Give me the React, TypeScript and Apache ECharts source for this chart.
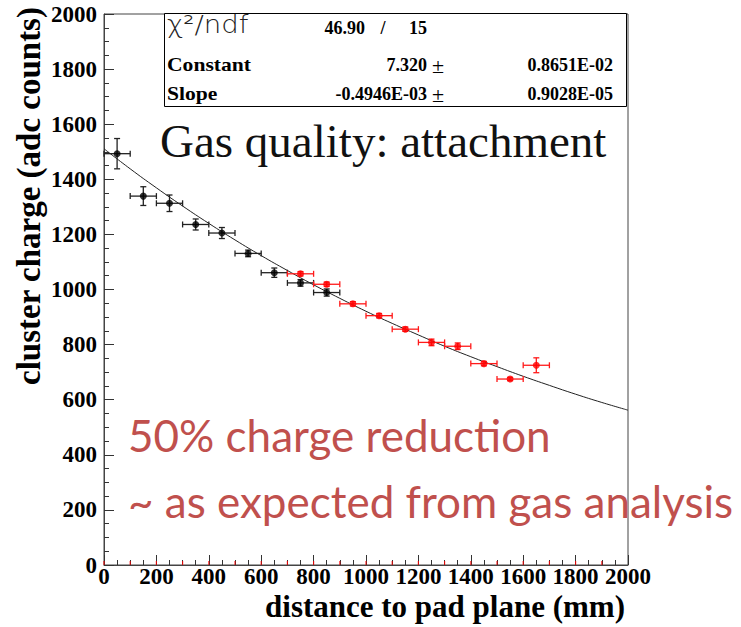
import React, { useEffect, useRef } from "react";
import * as echarts from "echarts";

// ---- data ----
const binHalfWidth = 50;

const blackX = [50, 150, 250, 350, 450, 550, 650, 750, 850];
const blackY = [1493, 1339, 1313, 1236, 1205, 1131, 1061, 1024, 989];
const blackYErr = [55, 34, 30, 20, 20, 12, 17, 12, 13];

const redX = [750, 850, 950, 1050, 1150, 1250, 1350, 1450, 1550, 1650];
const redY = [1057, 1019, 948, 905, 856, 808, 794, 731, 675, 725];
const redYErr = [8, 8, 8, 8, 8, 12, 12, 8, 6, 27];

// fitted exponential curve, sampled
const fitX = [0, 100, 200, 300, 400, 500, 600, 700, 800, 900, 1000, 1100, 1200, 1300, 1400, 1500, 1600, 1700, 1800, 1900, 2000];
const fitY = [1511, 1438, 1369, 1303, 1240, 1180, 1123, 1069, 1017, 968, 921, 877, 835, 794, 756, 720, 685, 652, 620, 590, 562];

// red histogram baseline marks
const redBaseX = [0, 100, 200, 300, 400, 500, 600, 700, 800, 900, 1000, 1100, 1200, 1300, 1400, 1500, 1600, 1700, 1800, 1900];

const xTitle = "distance to pad plane (mm)";
const yTitle = "cluster charge (adc counts)";
const plotTitle = "Gas quality: attachment";
const note1 = "50% charge reduction";
const note2 = "~ as expected from gas analysis";

const statsRows = [
  { name: "Constant", value: "7.320", err: "0.8651E-02" },
  { name: "Slope", value: "-0.4946E-03", err: "0.9028E-05" },
];
const chi2 = "46.90";
const ndf = "15";

const SERIF = "'Liberation Serif', 'Times New Roman', serif";
const SANS_NOTE = "Lato, 'Open Sans', sans-serif";

function errorBarSeries(name: string, xs: number[], ys: number[], yerr: number[], color: string) {
  return {
    type: "custom",
    name,
    z: 3,
    data: xs.map((x, i) => [x, ys[i], binHalfWidth, yerr[i]]),
    renderItem: (_params: any, api: any) => {
      const x = api.value(0);
      const y = api.value(1);
      const xe = api.value(2);
      const ye = api.value(3);
      const l = api.coord([x - xe, y]);
      const r = api.coord([x + xe, y]);
      const t = api.coord([x, y + ye]);
      const b = api.coord([x, y - ye]);
      const cap = 3;
      const style = { stroke: color, lineWidth: 1.3 };
      const mk = (x1: number, y1: number, x2: number, y2: number) => ({
        type: "line",
        shape: { x1, y1, x2, y2 },
        style,
      });
      return {
        type: "group",
        children: [
          mk(l[0], l[1], r[0], r[1]),
          mk(t[0], t[1], b[0], b[1]),
          mk(l[0], l[1] - cap, l[0], l[1] + cap),
          mk(r[0], r[1] - cap, r[0], r[1] + cap),
          mk(t[0] - cap, t[1], t[0] + cap, t[1]),
          mk(b[0] - cap, b[1], b[0] + cap, b[1]),
        ],
      };
    },
  };
}

function txt(text: string, x: number, y: number, font: string, align: string, fill = "#000", scaleX = 1, extra: any = {}) {
  return {
    type: "text",
    x,
    y,
    scaleX,
    z: 20,
    style: {
      text,
      font,
      fill,
      align,
      textAlign: align,
      verticalAlign: "middle",
      textVerticalAlign: "middle",
    },
    ...extra,
  };
}

export default function App() {
  const ref = useRef<HTMLDivElement>(null);
  useEffect(() => {
    if (!ref.current) return;
    const chart = echarts.init(ref.current, null, { renderer: "svg" });
    const statFont = `bold 18px ${SERIF}`;
    const rowsY = [65, 94];
    const graphics: any[] = [
      {
        type: "rect",
        z: 15,
        shape: { x: 164.5, y: 13.5, width: 462, height: 93 },
        style: { fill: "#fff", stroke: "#000", lineWidth: 1 },
      },
      txt("χ²/ndf", 167, 25, `200 24px 'DejaVu Sans', sans-serif`, "left", "#222", 1.15),
      txt(chi2, 365, 28, statFont, "right", "#000"),
      txt("/", 383, 28, statFont, "center", "#000"),
      txt(ndf, 427, 28, statFont, "right", "#000"),
    ];
    statsRows.forEach((row, i) => {
      const by = rowsY[i];
      graphics.push(txt(row.name, 167, by, statFont, "left", "#000", 1.2));
      graphics.push(txt(row.value, 427, by, statFont, "right", "#000"));
      graphics.push(txt("±", 432, by, `22px ${SERIF}`, "left", "#000"));
      graphics.push(txt(row.err, 613, by, statFont, "right", "#000"));
    });
    graphics.push(txt(plotTitle, 160, 141, `47px ${SERIF}`, "left", "#111"));
    graphics.push(txt(note1, 128, 435, `44px ${SANS_NOTE}`, "left", "#c0504d"));
    graphics.push(txt(note2, 128, 501, `44px ${SANS_NOTE}`, "left", "#c0504d"));
    graphics.push(txt(xTitle, 625, 606, `bold 31px ${SERIF}`, "right", "#000"));
    graphics.push({
      type: "text",
      x: 29,
      y: 196,
      rotation: Math.PI / 2,
      z: 20,
      style: {
        text: yTitle,
        font: `bold 33px ${SERIF}`,
        fill: "#000",
        align: "center",
        textAlign: "center",
        verticalAlign: "middle",
        textVerticalAlign: "middle",
      },
    });

    const axisCommon = {
      type: "value",
      min: 0,
      max: 2000,
      interval: 200,
      axisLine: { show: true, lineStyle: { color: "#444", width: 1 } },
      axisTick: { show: true, inside: true, length: 10, lineStyle: { color: "#333", width: 1 } },
      minorTick: { show: true, splitNumber: 4, length: 5, lineStyle: { color: "#333", width: 1 } },
      splitLine: { show: false },
      minorSplitLine: { show: false },
      axisLabel: {
        color: "#000",
        fontFamily: SERIF,
        fontWeight: "bold",
        fontSize: 23,
        formatter: (v: number) => String(v),
      },
    };

    chart.setOption({
      animation: false,
      backgroundColor: "#fff",
      grid: {
        left: 104,
        right: 113,
        top: 14,
        bottom: 62,
        show: true,
        borderColor: "#444",
        borderWidth: 1,
        backgroundColor: "transparent",
        containLabel: false,
        outerBoundsMode: "none",
      },
      xAxis: { ...axisCommon, axisLabel: { ...axisCommon.axisLabel, margin: 0, lineHeight: 22 } },
      yAxis: { ...axisCommon, axisLabel: { ...axisCommon.axisLabel, margin: 7 } },
      graphic: graphics,
      series: [
        {
          type: "scatter",
          name: "baseline",
          data: redBaseX.map((x) => [x, 0]),
          symbol: "rect",
          symbolSize: [1.2, 4],
          symbolOffset: [0, -2],
          itemStyle: { color: "#ff0000" },
          z: 2,
          silent: true,
        },
        {
          type: "line",
          name: "fit",
          data: fitX.map((x, i) => [x, fitY[i]]),
          showSymbol: false,
          symbol: "none",
          smooth: true,
          lineStyle: { color: "#222", width: 1 },
          z: 2,
        },
        errorBarSeries("black err", blackX, blackY, blackYErr, "#222"),
        errorBarSeries("red err", redX, redY, redYErr, "#ff1a1a"),
        {
          type: "scatter",
          name: "black",
          data: blackX.map((x, i) => [x, blackY[i]]),
          symbol: "circle",
          symbolSize: 7,
          itemStyle: { color: "#000" },
          z: 4,
        },
        {
          type: "scatter",
          name: "red",
          data: redX.map((x, i) => [x, redY[i]]),
          symbol: "circle",
          symbolSize: 7,
          itemStyle: { color: "#ff0000" },
          z: 5,
        },
      ],
    });
    return () => chart.dispose();
  }, []);
  return (
    <div
      ref={ref}
      style={{ position: "fixed", left: 0, top: 0, width: 741, height: 627, background: "#fff" }}
    />
  );
}
